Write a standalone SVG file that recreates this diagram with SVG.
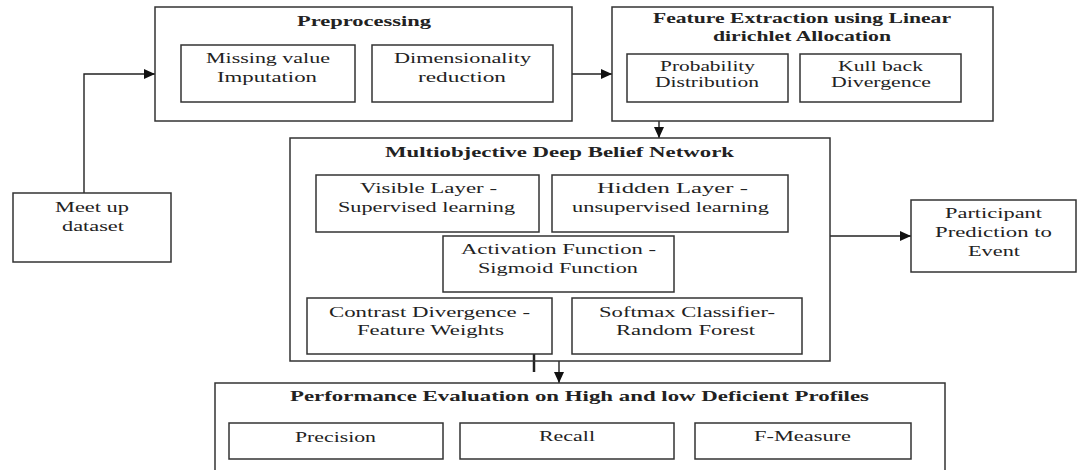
<svg xmlns="http://www.w3.org/2000/svg" width="1077" height="470" viewBox="0 0 1077 470">
<style>
.box{fill:none;stroke:#333;stroke-width:1.5}
.t{font-family:"Liberation Serif","Times New Roman",serif;font-size:15px;fill:#222}
.b{font-weight:bold}
.c{fill:none;stroke:#222;stroke-width:1.4}
</style>
<defs>
<marker id="ah" markerWidth="12" markerHeight="10" refX="11" refY="5" orient="auto" markerUnits="userSpaceOnUse">
<path d="M0,0 L11,5 L0,10 Z" fill="#111"/>
</marker>
</defs>
<rect width="1077" height="470" fill="#fff"/>
<g id="connectors">
<path class="c" d="M84,193 V74 H155" marker-end="url(#ah)"/>
<path class="c" d="M572,74 H612" marker-end="url(#ah)"/>
<path class="c" d="M659,121 V138" marker-end="url(#ah)"/>
<path class="c" d="M830,236 H911" marker-end="url(#ah)"/>
<path class="c" d="M534,354 V372" style="stroke-width:2.5"/>
<path class="c" d="M559,361 V383" marker-end="url(#ah)"/>
</g>
<g id="preprocessing">
<rect class="box" x="155" y="7" width="417" height="114"/>
<text class="t b" x="297" y="26" textLength="134" lengthAdjust="spacingAndGlyphs">Preprocessing</text>
</g>
<g id="missing-value">
<rect class="box" x="181" y="45" width="174" height="57"/>
<text class="t" x="206" y="63" textLength="124" lengthAdjust="spacingAndGlyphs">Missing value</text>
<text class="t" x="217" y="82" textLength="100" lengthAdjust="spacingAndGlyphs">Imputation</text>
</g>
<g id="dimensionality">
<rect class="box" x="372" y="45" width="181" height="57"/>
<text class="t" x="394" y="63" textLength="137" lengthAdjust="spacingAndGlyphs">Dimensionality</text>
<text class="t" x="418" y="82" textLength="88" lengthAdjust="spacingAndGlyphs">reduction</text>
</g>
<g id="feature-extraction">
<rect class="box" x="612" y="7" width="381" height="114"/>
<text class="t b" x="653" y="23" textLength="298" lengthAdjust="spacingAndGlyphs">Feature Extraction using Linear</text>
<text class="t b" x="713" y="41" textLength="178" lengthAdjust="spacingAndGlyphs">dirichlet Allocation</text>
</g>
<g id="probability">
<rect class="box" x="627" y="54" width="161" height="48"/>
<text class="t" x="660" y="71" textLength="95" lengthAdjust="spacingAndGlyphs">Probability</text>
<text class="t" x="655" y="87" textLength="104" lengthAdjust="spacingAndGlyphs">Distribution</text>
</g>
<g id="kullback">
<rect class="box" x="800" y="54" width="161" height="48"/>
<text class="t" x="838" y="71" textLength="85" lengthAdjust="spacingAndGlyphs">Kull back</text>
<text class="t" x="831" y="87" textLength="100" lengthAdjust="spacingAndGlyphs">Divergence</text>
</g>
<g id="mdbn">
<rect class="box" x="290" y="138" width="540" height="223"/>
<text class="t b" x="385" y="157" textLength="349" lengthAdjust="spacingAndGlyphs">Multiobjective  Deep Belief Network</text>
</g>
<g id="visible">
<rect class="box" x="316" y="175" width="223" height="57"/>
<text class="t" x="360" y="193" textLength="137" lengthAdjust="spacingAndGlyphs">Visible Layer -</text>
<text class="t" x="338" y="212" textLength="177" lengthAdjust="spacingAndGlyphs">Supervised learning</text>
</g>
<g id="hidden">
<rect class="box" x="552" y="175" width="236" height="57"/>
<text class="t" x="597" y="193" textLength="151" lengthAdjust="spacingAndGlyphs">Hidden  Layer -</text>
<text class="t" x="572" y="212" textLength="197" lengthAdjust="spacingAndGlyphs">unsupervised learning</text>
</g>
<g id="activation">
<rect class="box" x="443" y="236" width="231" height="56"/>
<text class="t" x="461" y="254" textLength="195" lengthAdjust="spacingAndGlyphs">Activation Function -</text>
<text class="t" x="478" y="273" textLength="160" lengthAdjust="spacingAndGlyphs">Sigmoid Function</text>
</g>
<g id="contrast">
<rect class="box" x="307" y="298" width="245" height="56"/>
<text class="t" x="329" y="317" textLength="201" lengthAdjust="spacingAndGlyphs">Contrast Divergence -</text>
<text class="t" x="357" y="335" textLength="147" lengthAdjust="spacingAndGlyphs">Feature Weights</text>
</g>
<g id="softmax">
<rect class="box" x="572" y="298" width="230" height="56"/>
<text class="t" x="599" y="317" textLength="176" lengthAdjust="spacingAndGlyphs">Softmax Classifier-</text>
<text class="t" x="616" y="335" textLength="139" lengthAdjust="spacingAndGlyphs">Random Forest</text>
</g>
<g id="participant">
<rect class="box" x="911" y="200" width="165" height="72"/>
<text class="t" x="945" y="218" textLength="97" lengthAdjust="spacingAndGlyphs">Participant</text>
<text class="t" x="935" y="237" textLength="117" lengthAdjust="spacingAndGlyphs">Prediction to</text>
<text class="t" x="968" y="256" textLength="52" lengthAdjust="spacingAndGlyphs">Event</text>
</g>
<g id="meetup">
<rect class="box" x="13" y="193" width="158" height="69"/>
<text class="t" x="55" y="212" textLength="74" lengthAdjust="spacingAndGlyphs">Meet up</text>
<text class="t" x="62" y="231" textLength="62" lengthAdjust="spacingAndGlyphs">dataset</text>
</g>
<g id="performance">
<rect class="box" x="215" y="383" width="730" height="100"/>
<text class="t b" x="290" y="401" textLength="579" lengthAdjust="spacingAndGlyphs">Performance Evaluation  on High and low Deficient Profiles</text>
</g>
<g id="precision">
<rect class="box" x="229" y="423" width="214" height="36"/>
<text class="t" x="295" y="442" textLength="81" lengthAdjust="spacingAndGlyphs">Precision</text>
</g>
<g id="recall">
<rect class="box" x="460" y="423" width="214" height="36"/>
<text class="t" x="539" y="441" textLength="56" lengthAdjust="spacingAndGlyphs">Recall</text>
</g>
<g id="fmeasure">
<rect class="box" x="695" y="423" width="216" height="36"/>
<text class="t" x="754" y="441" textLength="97" lengthAdjust="spacingAndGlyphs">F-Measure</text>
</g>
</svg>
